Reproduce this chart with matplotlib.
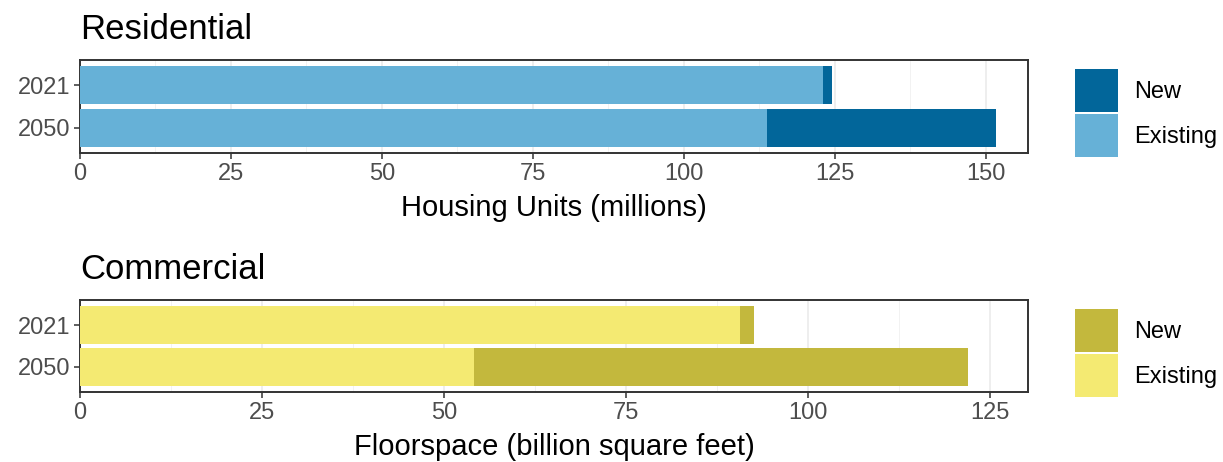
import matplotlib
matplotlib.use("Agg")
import matplotlib.pyplot as plt
from matplotlib.patches import Patch

plt.rcParams['font.family'] = ['Liberation Sans', 'DejaVu Sans']

years = ["2021", "2050"]
res_existing = [123.0, 113.8]
res_total = [124.6, 151.7]
res_new = [t - e for t, e in zip(res_total, res_existing)]
com_existing = [90.6, 54.1]
com_total = [92.6, 122.0]
com_new = [t - e for t, e in zip(com_total, com_existing)]
res_ticks = [0, 25, 50, 75, 100, 125, 150]
com_ticks = [0, 25, 50, 75, 100, 125]

W, H = 1223, 462
fig = plt.figure(figsize=(W / 100, H / 100), dpi=100)

def fx(px):
    return px / W

def fy(py):
    return 1 - py / H

def panel(top, bottom, title, xlabel, existing, new, ticks, xmax, c_new, c_exist):
    ax = fig.add_axes([fx(80), fy(bottom), fx(1028) - fx(80), fy(top) - fy(bottom)])
    pos = list(range(len(years)))
    ax.barh(pos, existing, height=0.9, color=c_exist, label="Existing", zorder=3)
    ax.barh(pos, new, left=existing, height=0.9, color=c_new, label="New", zorder=3)
    ax.set_ylim(1.6, -0.6)
    ax.set_xlim(0, xmax)
    ax.set_yticks(pos)
    ax.set_yticklabels(years)
    ax.set_xticks(ticks)
    ax.set_xticklabels([str(t) for t in ticks])
    minor = [t + 12.5 for t in ticks if t + 12.5 < xmax]
    ax.set_xticks(minor, minor=True)
    ax.grid(axis='x', which='major', color='#EBEBEB', lw=1.2, zorder=0)
    ax.grid(axis='x', which='minor', color='#F2F2F2', lw=0.7, zorder=0)
    ax.tick_params(axis='x', which='minor', length=0)
    ax.tick_params(axis='both', which='major', labelsize=17, labelcolor='#4D4D4D',
                   color='#333333', length=4, width=1.1, pad=3)
    for s in ax.spines.values():
        s.set_color('#333333')
        s.set_linewidth(1.4)
    ax.set_xlabel(xlabel, fontsize=21, color='black', labelpad=7)
    ax.set_title(title, loc='left', fontsize=25, color='black', pad=15)
    handles = [Patch(facecolor=c_new, edgecolor='none', label='New'),
               Patch(facecolor=c_exist, edgecolor='none', label='Existing')]
    fig.legend(handles=handles, loc='upper left',
               bbox_to_anchor=(fx(1075), fy(top + 9)), frameon=False,
               fontsize=17, handlelength=1.82, handleheight=2.4,
               labelspacing=0.1, handletextpad=0.7, borderpad=0, borderaxespad=0)
    return ax

panel(60, 153, "Residential", "Housing Units (millions)", res_existing, res_new,
      res_ticks, 157.0, '#02669A', '#66B1D7')
panel(300, 392, "Commercial", "Floorspace (billion square feet)", com_existing, com_new,
      com_ticks, 130.2, '#C3B83D', '#F4EA72')

fig.savefig("out.png", dpi=100)
